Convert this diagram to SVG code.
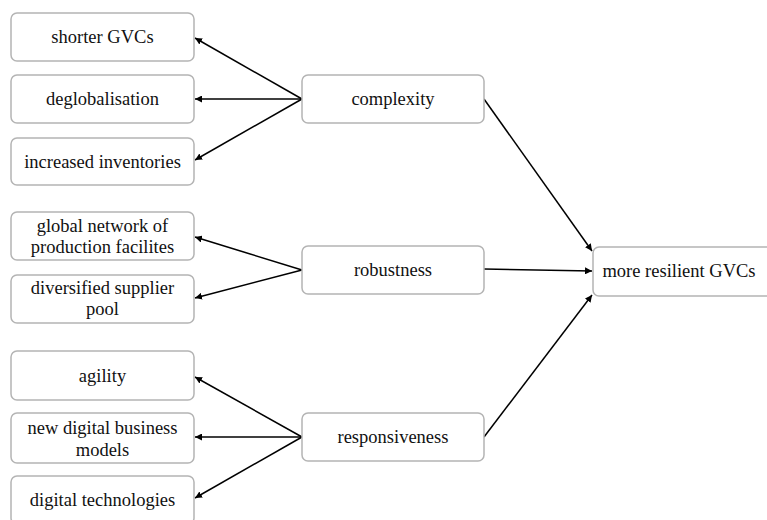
<svg xmlns="http://www.w3.org/2000/svg" width="767" height="520" viewBox="0 0 767 520">
<style>
.box{fill:#fff;stroke:#b4b4b4;stroke-width:1.5}
.t{font-family:"Liberation Serif","Times New Roman",serif;font-size:18.5px;fill:#111;text-anchor:middle}
.c{stroke:#000;stroke-width:1.5;fill:none;marker-end:url(#ah)}
</style>
<defs>
<marker id="ah" viewBox="0 0 10 10" refX="10" refY="5" markerWidth="7" markerHeight="7" markerUnits="userSpaceOnUse" orient="auto">
<path d="M0,0 L10,5 L0,10 z" fill="#000"/>
</marker>
</defs>
<rect width="767" height="520" fill="#fff"/>
<g id="connectors">
<line class="c" x1="302" y1="99" x2="195" y2="38"/>
<line class="c" x1="302" y1="99" x2="195" y2="99"/>
<line class="c" x1="302" y1="99" x2="195" y2="160"/>
<line class="c" x1="302" y1="270" x2="195" y2="237"/>
<line class="c" x1="302" y1="270" x2="195" y2="298"/>
<line class="c" x1="302" y1="437" x2="195" y2="377"/>
<line class="c" x1="302" y1="437" x2="195" y2="437"/>
<line class="c" x1="302" y1="437" x2="195" y2="498"/>
<line class="c" x1="484" y1="99" x2="592" y2="251"/>
<line class="c" x1="484" y1="269" x2="592" y2="271"/>
<line class="c" x1="484" y1="437" x2="592" y2="295"/>
</g>
<g id="n-shorter"><rect class="box" x="11" y="13" width="183" height="48" rx="6"/><text class="t" x="102.5" y="43">shorter GVCs</text></g>
<g id="n-deglob"><rect class="box" x="11" y="75" width="183" height="48" rx="6"/><text class="t" x="102.5" y="105">deglobalisation</text></g>
<g id="n-inventories"><rect class="box" x="11" y="138" width="183" height="47" rx="6"/><text class="t" x="102.5" y="168">increased inventories</text></g>
<g id="n-global"><rect class="box" x="11" y="212" width="183" height="48" rx="6"/><text class="t" x="102.5" y="232">global network of</text><text class="t" x="102.5" y="253">production facilites</text></g>
<g id="n-diversified"><rect class="box" x="11" y="275" width="183" height="48" rx="6"/><text class="t" x="102.5" y="294">diversified supplier</text><text class="t" x="102.5" y="315">pool</text></g>
<g id="n-agility"><rect class="box" x="11" y="351" width="183" height="49" rx="6"/><text class="t" x="102.5" y="382">agility</text></g>
<g id="n-newdigital"><rect class="box" x="11" y="413" width="183" height="50" rx="6"/><text class="t" x="102.5" y="434">new digital business</text><text class="t" x="102.5" y="456">models</text></g>
<g id="n-digitaltech"><rect class="box" x="11" y="476" width="183" height="48" rx="6"/><text class="t" x="102.5" y="506">digital technologies</text></g>
<g id="n-complexity"><rect class="box" x="302" y="75" width="182" height="48" rx="6"/><text class="t" x="393" y="105">complexity</text></g>
<g id="n-robustness"><rect class="box" x="302" y="246" width="182" height="48" rx="6"/><text class="t" x="393" y="276">robustness</text></g>
<g id="n-responsiveness"><rect class="box" x="302" y="413" width="182" height="48" rx="6"/><text class="t" x="393" y="443">responsiveness</text></g>
<g id="n-resilient"><rect class="box" x="593" y="247" width="180" height="49" rx="6"/><text class="t" x="679" y="277">more resilient GVCs</text></g>
</svg>
